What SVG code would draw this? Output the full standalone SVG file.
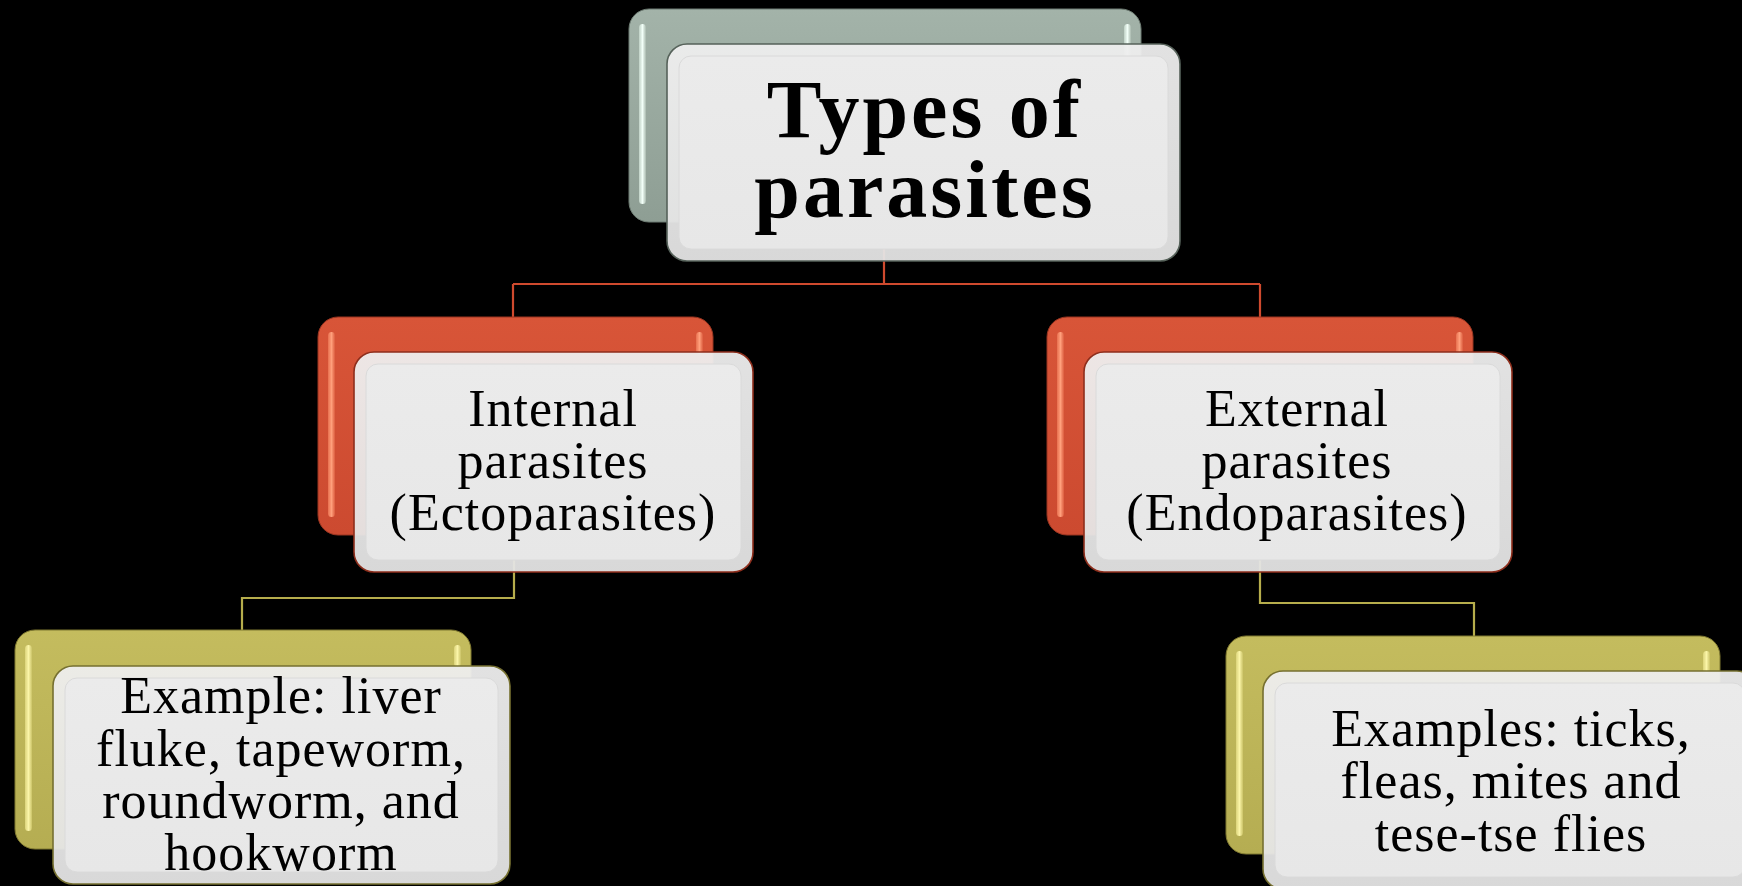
<svg xmlns="http://www.w3.org/2000/svg" width="1742" height="886" viewBox="0 0 1742 886">
<defs>
<linearGradient id="gGreen" x1="0" y1="0" x2="0" y2="1"><stop offset="0" stop-color="#a3b3a9"/><stop offset="1" stop-color="#8e9e94"/></linearGradient>
<linearGradient id="gRed" x1="0" y1="0" x2="0" y2="1"><stop offset="0" stop-color="#d85538"/><stop offset="1" stop-color="#cc4a30"/></linearGradient>
<linearGradient id="gYel" x1="0" y1="0" x2="0" y2="1"><stop offset="0" stop-color="#c4bc5e"/><stop offset="1" stop-color="#b5ad52"/></linearGradient>
<linearGradient id="hGreen" x1="0" y1="0" x2="1" y2="0"><stop offset="0" stop-color="#bfd0c5"/><stop offset="0.5" stop-color="#f2fff8"/><stop offset="1" stop-color="#a9b9ae"/></linearGradient>
<linearGradient id="hRed" x1="0" y1="0" x2="1" y2="0"><stop offset="0" stop-color="#e8704f"/><stop offset="0.5" stop-color="#ffa07c"/><stop offset="1" stop-color="#dc5c3e"/></linearGradient>
<linearGradient id="hYel" x1="0" y1="0" x2="1" y2="0"><stop offset="0" stop-color="#dcd47a"/><stop offset="0.5" stop-color="#fbf5a8"/><stop offset="1" stop-color="#cbc367"/></linearGradient>
<linearGradient id="gFront" x1="0" y1="0" x2="0" y2="1"><stop offset="0" stop-color="#eeeeee"/><stop offset="1" stop-color="#e4e4e4"/></linearGradient>
<linearGradient id="gInner" x1="0" y1="0" x2="0" y2="1"><stop offset="0" stop-color="#ebebeb"/><stop offset="1" stop-color="#e7e7e7"/></linearGradient>
</defs>
<style>
.front{fill:url(#gFront);fill-opacity:0.95;stroke-width:1.6}
.inner{fill:url(#gInner);stroke:#dadada;stroke-width:1}
.t1{font-family:"Liberation Serif","DejaVu Serif",serif;font-weight:bold;font-size:82px;letter-spacing:3px;fill:#000;text-anchor:middle}
.t2{font-family:"Liberation Serif","DejaVu Serif",serif;font-size:52px;letter-spacing:1px;fill:#000;text-anchor:middle}
.cR{fill:none;stroke:#cf4a2e;stroke-width:2.2}
.cY{fill:none;stroke:#b6ad4c;stroke-width:2.2}
</style>
<rect width="1742" height="886" fill="#000"/>
<g id="connectors">
<path class="cR" d="M884 222 V284 M513 284 H1260 M513 284 V317 M1260 284 V317"/>
<path class="cY" d="M514 535 V598 H242 V630"/>
<path class="cY" d="M1260 535 V603 H1474 V636"/>
</g>
<g id="node-types">
<rect x="629" y="9" width="512" height="213" rx="20" fill="url(#gGreen)" stroke="#6f7d74" stroke-width="1"/>
<rect x="639" y="24" width="7" height="180" rx="3.5" fill="url(#hGreen)"/>
<rect x="1124" y="24" width="7" height="40" rx="3.5" fill="url(#hGreen)"/>
<rect class="front" x="667" y="44" width="513" height="217" rx="20" stroke="#56625a"/>
<rect class="inner" x="679" y="56" width="489" height="193" rx="12"/>
<text class="t1" x="925" y="137">Types of</text>
<text class="t1" x="925" y="217">parasites</text>
</g>
<g id="node-internal">
<rect x="318" y="317" width="395" height="218" rx="20" fill="url(#gRed)" stroke="#9a3521" stroke-width="1"/>
<rect x="328" y="332" width="7" height="185" rx="3.5" fill="url(#hRed)"/>
<rect x="696" y="332" width="7" height="22" rx="3.5" fill="url(#hRed)"/>
<rect class="front" x="354" y="352" width="399" height="220" rx="20" stroke="#8e2e1c"/>
<rect class="inner" x="366" y="364" width="375" height="196" rx="12"/>
<text class="t2" x="553" y="426">Internal</text>
<text class="t2" x="553" y="478">parasites</text>
<text class="t2" x="553" y="530">(Ectoparasites)</text>
</g>
<g id="node-external">
<rect x="1047" y="317" width="426" height="218" rx="20" fill="url(#gRed)" stroke="#9a3521" stroke-width="1"/>
<rect x="1057" y="332" width="7" height="185" rx="3.5" fill="url(#hRed)"/>
<rect x="1456" y="332" width="7" height="22" rx="3.5" fill="url(#hRed)"/>
<rect class="front" x="1084" y="352" width="428" height="220" rx="20" stroke="#8e2e1c"/>
<rect class="inner" x="1096" y="364" width="404" height="196" rx="12"/>
<text class="t2" x="1297" y="426">External</text>
<text class="t2" x="1297" y="478">parasites</text>
<text class="t2" x="1297" y="530">(Endoparasites)</text>
</g>
<g id="node-example-internal">
<rect x="15" y="630" width="456" height="219" rx="20" fill="url(#gYel)" stroke="#7f7830" stroke-width="1"/>
<rect x="25" y="645" width="7" height="186" rx="3.5" fill="url(#hYel)"/>
<rect x="454" y="645" width="7" height="22" rx="3.5" fill="url(#hYel)"/>
<rect class="front" x="53" y="666" width="457" height="218" rx="20" stroke="#767030"/>
<rect class="inner" x="65" y="678" width="433" height="194" rx="12"/>
<text class="t2" x="281" y="713">Example: liver</text>
<text class="t2" x="281" y="766">fluke, tapeworm,</text>
<text class="t2" x="281" y="818">roundworm, and</text>
<text class="t2" x="281" y="870">hookworm</text>
</g>
<g id="node-example-external">
<rect x="1226" y="636" width="494" height="218" rx="20" fill="url(#gYel)" stroke="#7f7830" stroke-width="1"/>
<rect x="1236" y="651" width="7" height="185" rx="3.5" fill="url(#hYel)"/>
<rect x="1703" y="651" width="7" height="22" rx="3.5" fill="url(#hYel)"/>
<rect class="front" x="1263" y="671" width="494" height="218" rx="20" stroke="#767030"/>
<rect class="inner" x="1275" y="683" width="470" height="194" rx="12"/>
<text class="t2" x="1511" y="746">Examples: ticks,</text>
<text class="t2" x="1511" y="798">fleas, mites and</text>
<text class="t2" x="1511" y="851">tese-tse flies</text>
</g>
</svg>
